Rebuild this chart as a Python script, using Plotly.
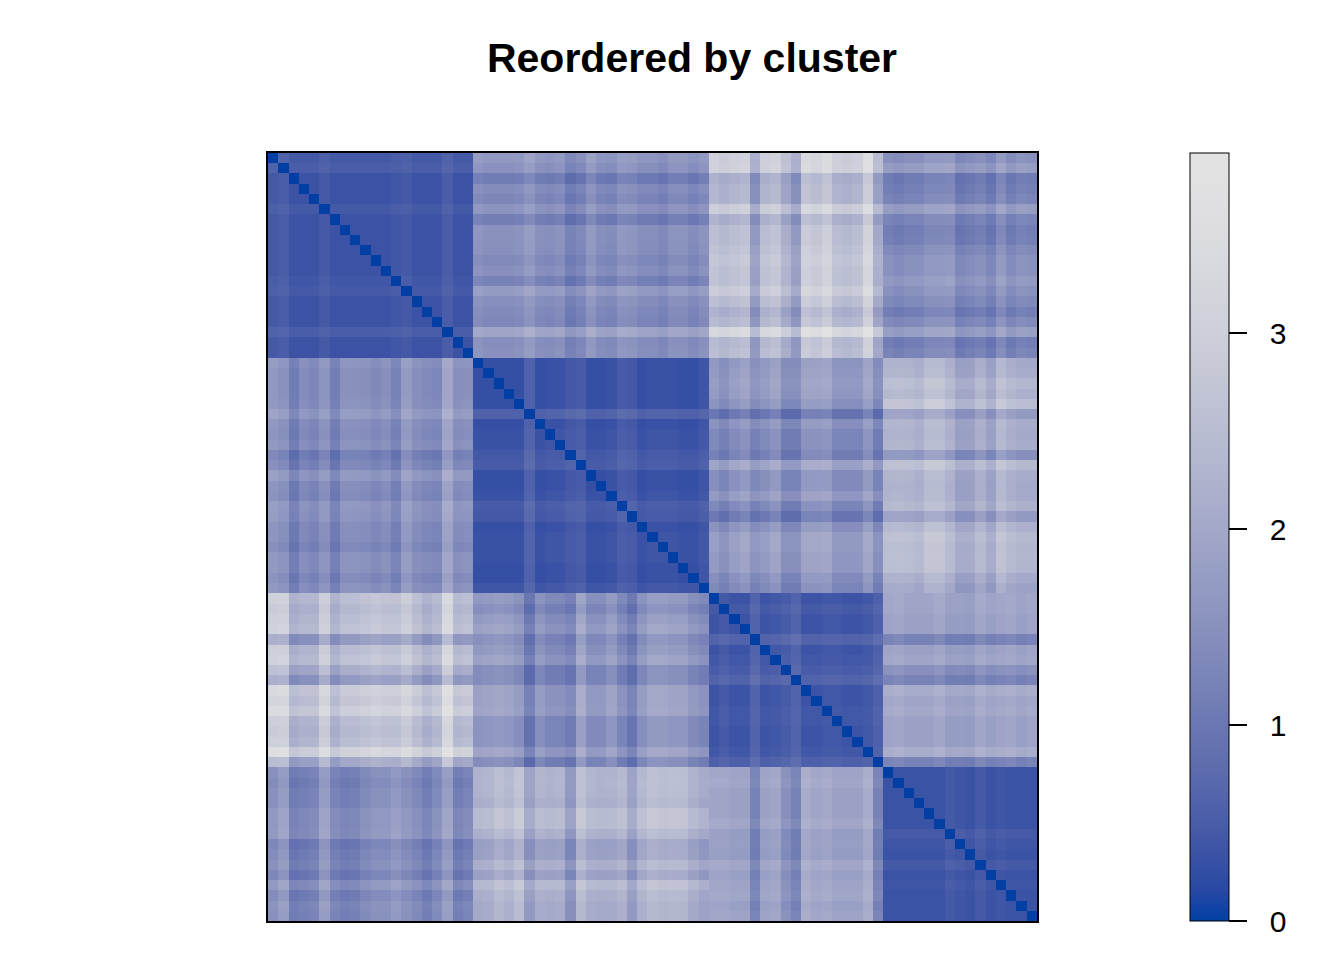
import math
import numpy as np
import plotly.graph_objects as go

# cluster sizes, in plotted order (top -> bottom, left -> right)
sizes = [20, 23, 17, 15]

# typical distance inside each cluster
within_base = [0.35, 0.28, 0.36, 0.34]
# per-point spread inside its own cluster
within_c1 = [0.1, 0.15, 0, 0, 0, 0.1, 0, 0, 0, 0, 0, 0, 0.05, 0.1, 0, 0, 0, 0.15, 0, 0]
within_c2 = [0, 0, 0, 0, 0, 0.3, 0, 0.05, 0.05, 0.15, 0.2, 0, 0, 0.05, 0.2, 0.15,
             0, 0.05, 0.05, 0.05, 0, 0, 0.1]
within_c3 = [0, 0.1, 0, 0, 0.25, 0, 0.05, 0.12, 0.25, 0, 0, 0.05, 0.05, 0, 0, 0.05, 0.2]
within_c4 = [0, 0, 0, 0, 0, 0, 0.12, 0.05, 0, 0.12, 0, 0.05, 0, 0, 0]

# mean distance between cluster pairs
between_12 = 1.44
between_13 = 2.55
between_14 = 1.38
between_23 = 1.53
between_24 = 2.22
between_34 = 1.77

# per-point offsets read from the stripes of each off-diagonal block
rows_12 = [0.21, 0.08, -0.36, -0.04, -0.16, 0.11, -0.32, 0.08, 0.06, 0.04,
           -0.09, 0.04, -0.24, 0.28, 0.01, -0.09, -0.14, 0.5, 0.01, 0.06]
cols_12 = [0.1, 0, 0, 0, 0.05, 0.25, 0, -0.05, 0.05, -0.3, -0.15, 0.2, -0.05,
           -0.1, 0.15, 0.1, -0.05, -0.05, -0.15, 0.05, 0.05, -0.1, 0.05]
rows_13 = [0.39, 0.44, -0.42, -0.29, -0.29, 0.33, -0.38, -0.08, -0.08, 0.03,
           0.14, 0.05, 0.03, 0.29, -0.06, -0.38, -0.17, 0.7, -0.17, -0.08]
cols_13 = [0.1, -0.06, 0.05, 0.16, -0.77, 0.02, 0.16, -0.32, -0.77, 0.42,
           0.25, 0.5, 0.02, -0.06, 0.05, 0.65, -0.44]
rows_14 = [0.12, 0.38, -0.3, -0.23, -0.13, 0.38, -0.13, -0.25, -0.21, 0,
           0.13, 0.13, 0.3, 0.13, -0.04, -0.25, 0, 0.42, -0.25, -0.13]
cols_14 = [0, -0.1, 0, 0, 0.15, 0.15, 0.2, -0.2, -0.1, 0, -0.2, 0.2, -0.1, 0.05, 0]
rows_23 = [0.12, 0.19, 0.25, 0.19, 0.02, -0.54, 0.02, -0.19, -0.19, -0.34, 0.4,
           -0.06, -0.06, 0.19, -0.19, -0.49, 0.02, 0.27, 0.27, 0.19, 0.19, -0.06, -0.19]
cols_23 = [0, -0.2, 0.05, 0.2, -0.15, 0, 0.2, -0.25, -0.25, 0.2, 0.2, 0.25,
           -0.1, -0.1, -0.1, 0.25, -0.25]
rows_24 = [-0.08, -0.02, 0.23, 0.09, 0.38, -0.41, -0.02, -0.08, -0.02, -0.63, 0.3,
           -0.02, -0.08, -0.05, 0.09, -0.41, 0.09, 0.3, 0.2, 0.23, 0.2, -0.08, -0.25]
cols_24 = [0.1, 0.13, 0.1, 0, 0.3, 0.3, 0.03, -0.35, -0.33, 0, -0.33, 0.23, 0, -0.11, -0.11]
rows_34 = [0.17, 0.17, 0.08, 0.08, -0.57, 0.08, 0.17, -0.29, -0.57, 0.33, 0.17,
           0.23, 0.08, 0.08, 0.08, 0.33, -0.57]
cols_34 = [0.05, 0.12, 0, 0, 0, 0.12, -0.1, -0.08, -0.12, 0.12, -0.03, 0.05, 0.1, -0.03, 0.05]

ZMAX = 3.92
colorbar_ticks = [0, 1, 2, 3]
colorbar_labels = ['\u00a0\u00a00', '\u00a0\u00a01', '\u00a0\u00a02', '\u00a0\u00a03']

# assemble the distance matrix block by block
within = [within_c1, within_c2, within_c3, within_c4]
blocks = {
    (0, 1): (between_12, rows_12, cols_12),
    (0, 2): (between_13, rows_13, cols_13),
    (0, 3): (between_14, rows_14, cols_14),
    (1, 2): (between_23, rows_23, cols_23),
    (1, 3): (between_24, rows_24, cols_24),
    (2, 3): (between_34, rows_34, cols_34),
}
starts = np.concatenate([[0], np.cumsum(sizes)])
n = int(starts[-1])
D = np.zeros((n, n))
for k in range(4):
    s, e = starts[k], starts[k + 1]
    w = np.array(within[k])
    D[s:e, s:e] = within_base[k] + w[:, None] + w[None, :]
for (a, b), (base, r, c) in blocks.items():
    sa, ea = starts[a], starts[a + 1]
    sb, eb = starts[b], starts[b + 1]
    blk = base + np.array(r)[:, None] + np.array(c)[None, :]
    D[sa:ea, sb:eb] = blk
    D[sb:eb, sa:ea] = blk.T
np.fill_diagonal(D, 0)
D = np.clip(D, 0, ZMAX)


# blue half of the "Blue-Red" diverging HCL palette
def hcl_hex(h, c, l):
    Xn, Yn, Zn = 95.047, 100.0, 108.883
    hr = math.radians(h)
    u, v = c * math.cos(hr), c * math.sin(hr)
    Y = Yn * ((l + 16) / 116) ** 3 if l > 8 else Yn * l / 903.3
    t = Xn + 15 * Yn + 3 * Zn
    up = u / (13 * l) + 4 * Xn / t
    vp = v / (13 * l) + 9 * Yn / t
    X = Y * 9 * up / (4 * vp)
    Z = Y * (12 - 3 * up - 20 * vp) / (4 * vp)
    X, Y, Z = X / 100, Y / 100, Z / 100
    rgb = [3.240479 * X - 1.537150 * Y - 0.498535 * Z,
           -0.969256 * X + 1.875992 * Y + 0.041556 * Z,
           0.055648 * X - 0.204043 * Y + 1.057311 * Z]
    out = []
    for x in rgb:
        x = 12.92 * x if x <= 0.0031308 else 1.055 * x ** (1 / 2.4) - 0.055
        out.append(int(round(min(max(x, 0), 1) * 255)))
    return '#%02x%02x%02x' % tuple(out)


colorscale = []
for t in np.linspace(0, 1, 25):
    i = (1 - t) ** 1.5
    colorscale.append([float(t), hcl_hex(260, 80 * i, 90 - 60 * i)])

fig = go.Figure(go.Heatmap(
    z=D,
    x=list(range(n)),
    y=list(range(n)),
    zmin=0, zmax=ZMAX,
    colorscale=colorscale,
    hoverinfo='skip',
    colorbar=dict(
        x=1.199, xanchor='left', xpad=0, ypad=0,
        y=0.5, yanchor='middle', len=1, lenmode='fraction',
        thickness=39, thicknessmode='pixels',
        outlinewidth=1, outlinecolor='black',
        tickvals=colorbar_ticks, ticktext=colorbar_labels,
        ticks='outside', ticklen=18, tickwidth=1.5, tickcolor='black',
        tickfont=dict(family='Liberation Sans', size=30, color='black'),
    ),
))

axis_style = dict(showticklabels=False, showgrid=False, zeroline=False, ticks='',
                  showline=True, mirror=True, linecolor='black', linewidth=1.5)
fig.update_xaxes(**axis_style, range=[-0.5, n - 0.5])
fig.update_yaxes(**axis_style, range=[n - 0.5, -0.5])

# the page body adds an 8px margin, so the figure is drawn 8px smaller
fig.update_layout(
    width=1336, height=952,
    margin=dict(l=260, r=307, t=145, b=39),
    paper_bgcolor='white', plot_bgcolor='white',
    title=dict(text='Reordered by cluster', x=(692 - 8) / 1336, xanchor='center',
               y=1 - 50 / 952, yanchor='middle', yref='container',
               font=dict(family='Liberation Sans', size=41, color='black', weight='bold')),
)

fig.write_html("out.html")
